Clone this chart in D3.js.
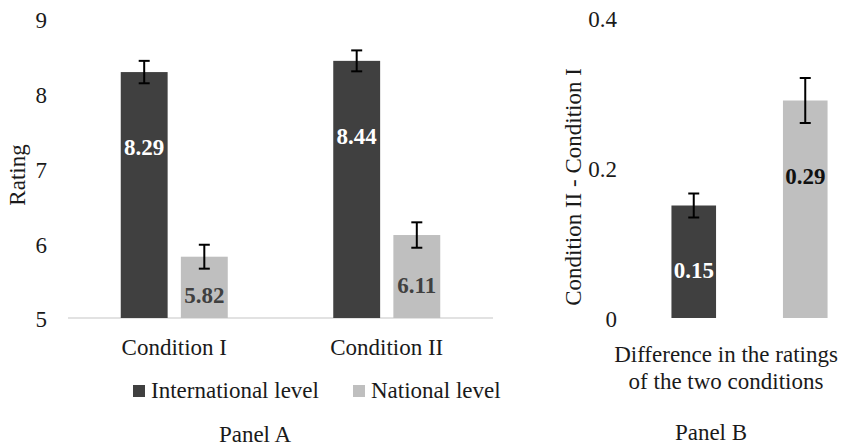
<!DOCTYPE html>
<html>
<head>
<meta charset="utf-8">
<script src="https://cdn.jsdelivr.net/npm/d3@7"></script>
<style>
  body { margin: 0; background: #fff; }
  text { font-family: "Liberation Serif", "Times New Roman", serif; fill: #1a1a1a; }
</style>
</head>
<body>
<svg id="chart" width="844" height="448"></svg>
<script>
// panel A data
var conditions = ['Condition I', 'Condition II']
var levels = ['International level', 'National level']
var intlRating = [8.29, 8.44]
var natRating = [5.82, 6.11]
var intlErr = [0.15, 0.14]
var natErr = [0.16, 0.17]
var ticksA = [5, 6, 7, 8, 9]

// panel B data
var diffValues = [0.15, 0.29]
var diffErr = [0.016, 0.03]
var ticksB = [0, 0.2, 0.4]

var colors = ['#404040', '#bfbfbf']
var labelColors = ['#ffffff', '#404040']

var svg = d3.select('#chart')

// label sits ~75px below top, or a bit below the middle for short bars
function labelY(top, bottom) {
    return Math.min(top + 75, (top + bottom) / 2 + 8)
}

function errorBar(g, x, y0, y1) {
    g.append('line').attr('x1', x).attr('x2', x).attr('y1', y0).attr('y2', y1)
    g.append('line').attr('x1', x - 5.5).attr('x2', x + 5.5).attr('y1', y0).attr('y2', y0)
    g.append('line').attr('x1', x - 5.5).attr('x2', x + 5.5).attr('y1', y1).attr('y2', y1)
}

// ---------- Panel A ----------
var yA = d3.scaleLinear().domain([5, 9]).range([318, 19])
var xA = d3.scaleBand().domain(conditions).range([68, 493])
var xInner = d3.scaleBand().domain(levels).range([0, 107]).paddingInner(0.22)

var rowsA = []
conditions.forEach(function (c, i) {
    rowsA.push({ cond: c, level: levels[0], v: intlRating[i], e: intlErr[i], s: 0 })
    rowsA.push({ cond: c, level: levels[1], v: natRating[i], e: natErr[i], s: 1 })
})

var yAxisA = d3.axisLeft(yA).tickValues(ticksA).tickSize(0).tickPadding(0).tickFormat(d3.format('d'))
svg.append('g').attr('id', 'yAxisA').attr('transform', 'translate(47,0)').call(yAxisA)

svg.append('line').attr('x1', xA.range()[0]).attr('x2', xA.range()[1])
    .attr('y1', yA(5)).attr('y2', yA(5)).style('stroke', '#d9d9d9').style('stroke-width', 1.5)

var groupOff = (xA.bandwidth() - 107) / 2
var barsA = svg.append('g')
rowsA.forEach(function (d) {
    var x = xA(d.cond) + groupOff + xInner(d.level)
    var w = xInner.bandwidth()
    var top = yA(d.v), bot = yA(5)
    barsA.append('rect').attr('x', x).attr('y', top).attr('width', w).attr('height', bot - top)
        .style('fill', colors[d.s])
    barsA.append('text').attr('x', x + w / 2).attr('y', labelY(top, bot)).attr('dy', '0.35em')
        .attr('text-anchor', 'middle').style('font-size', '23px').style('font-weight', 'bold')
        .style('fill', labelColors[d.s]).text(d.v.toFixed(2))
    var eg = barsA.append('g').style('stroke', '#000').style('stroke-width', 2)
    errorBar(eg, x + w / 2, yA(d.v + d.e), yA(d.v - d.e))
})

var xAxisA = d3.axisBottom(xA).tickSize(0).tickPadding(0)
svg.append('g').attr('id', 'xAxisA').attr('transform', 'translate(0,' + (yA(5) + 29) + ')').call(xAxisA)

svg.append('text').attr('transform', 'translate(25,175) rotate(-90)')
    .attr('text-anchor', 'middle').style('font-size', '23px').text('Rating')

// legend
var legX = [133, 353]
levels.forEach(function (l, i) {
    svg.append('rect').attr('x', legX[i]).attr('y', 385).attr('width', 12).attr('height', 12)
        .style('fill', colors[i])
    svg.append('text').attr('x', legX[i] + 18).attr('y', 390).attr('dy', '0.35em')
        .style('font-size', '23px').text(l)
})

svg.append('text').attr('x', 255).attr('y', 434).attr('dy', '0.35em')
    .attr('text-anchor', 'middle').style('font-size', '23px').text('Panel A')

// ---------- Panel B ----------
var yB = d3.scaleLinear().domain([0, 0.4]).range([318, 18])
var xB = d3.scaleBand().domain(levels).range([638, 861]).paddingInner(0.6).paddingOuter(0.3)

var yAxisB = d3.axisLeft(yB).tickValues(ticksB).tickSize(0).tickPadding(0)
    .tickFormat(function (d) { return d === 0 ? '0' : d.toFixed(1) })
svg.append('g').attr('id', 'yAxisB').attr('transform', 'translate(617,0)').call(yAxisB)

var barsB = svg.append('g')
diffValues.forEach(function (v, i) {
    var x = xB(levels[i]), w = xB.bandwidth()
    var top = yB(v), bot = yB(0)
    barsB.append('rect').attr('x', x).attr('y', top).attr('width', w).attr('height', bot - top)
        .style('fill', colors[i])
    barsB.append('text').attr('x', x + w / 2).attr('y', labelY(top, bot)).attr('dy', '0.35em')
        .attr('text-anchor', 'middle').style('font-size', '23px').style('font-weight', 'bold')
        .style('fill', i === 0 ? '#ffffff' : '#111111').text(v.toFixed(2))
    var eg = barsB.append('g').style('stroke', '#000').style('stroke-width', 2)
    errorBar(eg, x + w / 2, yB(v + diffErr[i]), yB(v - diffErr[i]))
})

svg.append('text').attr('transform', 'translate(573,187) rotate(-90)').attr('dy', '0.35em')
    .attr('text-anchor', 'middle').style('font-size', '23px').text('Condition II - Condition I')

svg.append('text').attr('x', 726).attr('y', 354).attr('dy', '0.35em')
    .attr('text-anchor', 'middle').style('font-size', '23px').text('Difference in the ratings')
svg.append('text').attr('x', 726).attr('y', 381).attr('dy', '0.35em')
    .attr('text-anchor', 'middle').style('font-size', '23px').text('of the two conditions')

svg.append('text').attr('x', 711).attr('y', 432).attr('dy', '0.35em')
    .attr('text-anchor', 'middle').style('font-size', '23px').text('Panel B')

// axis styling
d3.selectAll('path.domain').remove()
d3.selectAll('.tick text').style('font-size', '23px').style('font-family', '"Liberation Serif", serif')
    .style('fill', '#1a1a1a')
d3.selectAll('#yAxisA .tick text, #yAxisB .tick text').attr('dy', '0.38em')
d3.selectAll('#xAxisA .tick text').attr('dy', '0.35em').attr('y', 0)
</script>
</body>
</html>
